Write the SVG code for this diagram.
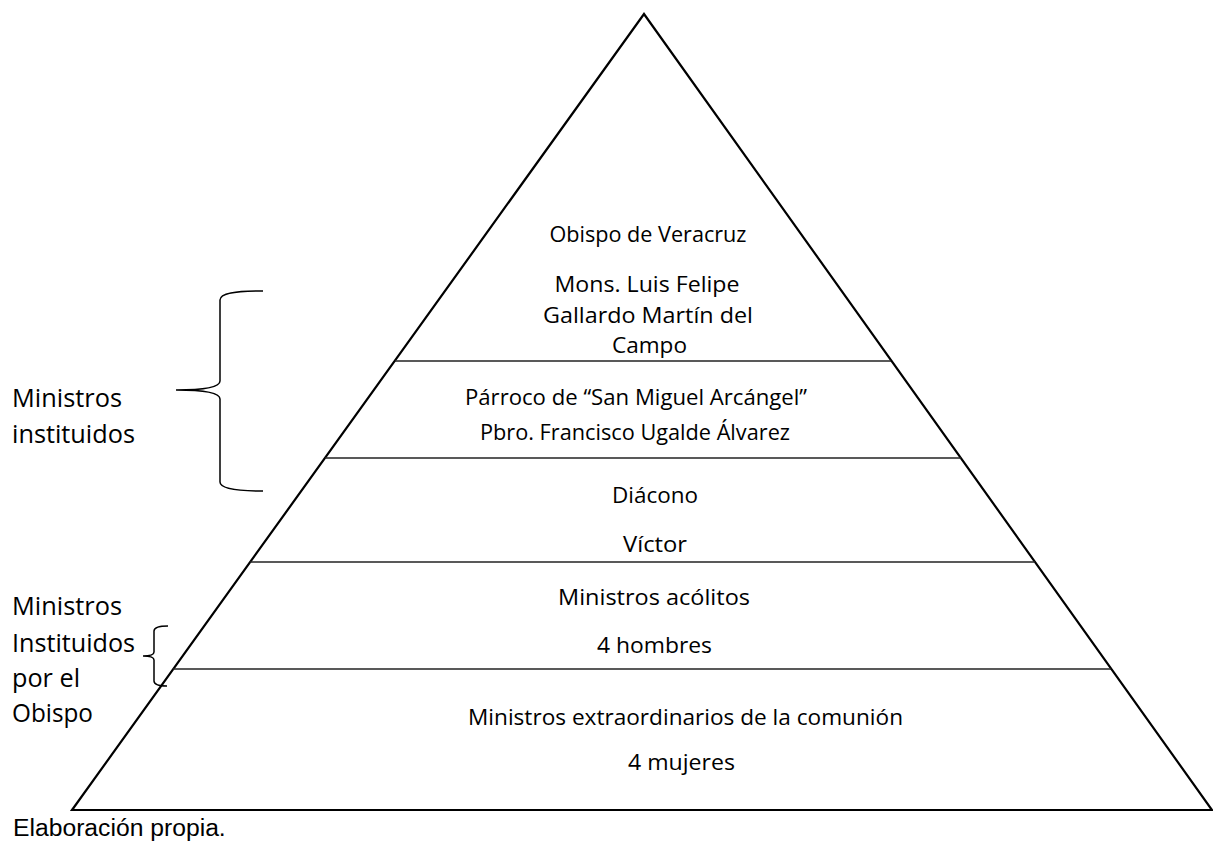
<svg xmlns="http://www.w3.org/2000/svg" width="1213" height="842" viewBox="0 0 1213 842">
<style>
.c{font-family:"Open Sans","Noto Sans","Liberation Sans",sans-serif;font-size:22px;fill:#000;text-anchor:middle}
.l{font-family:"Open Sans","Noto Sans","Liberation Sans",sans-serif;font-size:25.5px;fill:#000}
.f{font-family:"Liberation Sans",Arial,sans-serif;font-size:24.7px;fill:#000}
.tri{fill:none;stroke:#000;stroke-width:2.2;stroke-linejoin:miter}
.div{stroke:#222;stroke-width:1.5}
.br{fill:none;stroke:#000;stroke-width:1.5}
</style>
<rect width="1213" height="842" fill="#fff"/>
<g id="pyramid">
<polygon class="tri" points="644,14 72,810 1212,810"/>
</g>
<g id="connectors">
<line class="div" x1="395" y1="361" x2="891" y2="361"/>
<line class="div" x1="325" y1="458" x2="961" y2="458"/>
<line class="div" x1="250" y1="562" x2="1035" y2="562"/>
<line class="div" x1="173" y1="669" x2="1111" y2="669"/>
<path class="br" d="M263,291 C235,291 220,293 220,300 L220,381 C220,387 205,390 176,390 C205,390 220,393 220,399 L220,482 C220,488 235,491 263,491"/>
<path class="br" d="M168,626 C160,626 154,627 154,631 L154,652 C154,655 150,656 143,656 C150,656 154,657 154,660 L154,681 C154,685 160,686 167,686"/>
</g>
<g id="level1">
<text class="c" x="648" y="242" textLength="197" lengthAdjust="spacingAndGlyphs">Obispo de Veracruz</text>
<text class="c" x="647" y="292" textLength="185" lengthAdjust="spacingAndGlyphs">Mons. Luis Felipe</text>
<text class="c" x="648" y="323" textLength="210" lengthAdjust="spacingAndGlyphs">Gallardo Martín del</text>
<text class="c" x="649.5" y="353" textLength="75" lengthAdjust="spacingAndGlyphs">Campo</text>
</g>
<g id="level2">
<text class="c" x="636" y="405" textLength="342" lengthAdjust="spacingAndGlyphs">Párroco de “San Miguel Arcángel”</text>
<text class="c" x="635" y="440" textLength="310" lengthAdjust="spacingAndGlyphs">Pbro. Francisco Ugalde Álvarez</text>
</g>
<g id="level3">
<text class="c" x="655" y="503" textLength="86" lengthAdjust="spacingAndGlyphs">Diácono</text>
<text class="c" x="655" y="552" textLength="64" lengthAdjust="spacingAndGlyphs">Víctor</text>
</g>
<g id="level4">
<text class="c" x="654" y="605" textLength="192" lengthAdjust="spacingAndGlyphs">Ministros acólitos</text>
<text class="c" x="654.5" y="653" textLength="115" lengthAdjust="spacingAndGlyphs">4 hombres</text>
</g>
<g id="level5">
<text class="c" x="685.5" y="725" textLength="435" lengthAdjust="spacingAndGlyphs">Ministros extraordinarios de la comunión</text>
<text class="c" x="681.5" y="770" textLength="107" lengthAdjust="spacingAndGlyphs">4 mujeres</text>
</g>
<g id="label-instituidos">
<text class="l" x="12" y="407" textLength="110" lengthAdjust="spacingAndGlyphs">Ministros</text>
<text class="l" x="12" y="443" textLength="123" lengthAdjust="spacingAndGlyphs">instituidos</text>
</g>
<g id="label-obispo">
<text class="l" x="12" y="615" textLength="110" lengthAdjust="spacingAndGlyphs">Ministros</text>
<text class="l" x="12" y="652" textLength="123" lengthAdjust="spacingAndGlyphs">Instituidos</text>
<text class="l" x="12" y="687" textLength="68" lengthAdjust="spacingAndGlyphs">por el</text>
<text class="l" x="12" y="722" textLength="81" lengthAdjust="spacingAndGlyphs">Obispo</text>
</g>
<g id="caption">
<text class="f" x="13" y="836">Elaboración propia.</text>
</g>
</svg>
